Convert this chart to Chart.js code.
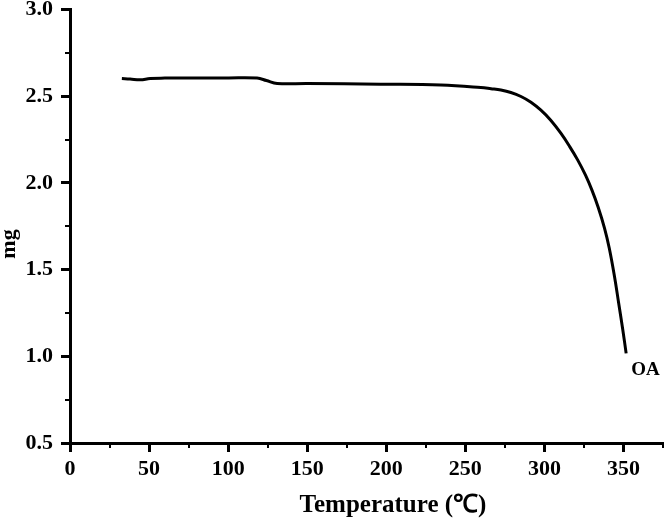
<!DOCTYPE html>
<html>
<head>
<meta charset="utf-8">
<script src="https://cdn.jsdelivr.net/npm/chart.js@4.4.1/dist/chart.umd.min.js"></script>
<style>
  html, body { margin: 0; padding: 0; background: #fff; }
  #wrap { width: 666px; height: 523px; }
</style>
</head>
<body>
<div id="wrap"><canvas id="tga-chart"></canvas></div>
<script>
// TGA curve
const temperature = [32.8, 38, 44.4, 50.7, 60, 82.4, 100, 118.3, 124.2, 131, 150, 196.5, 234.5, 259.8,
  266.2, 272.5, 278.8, 285.2, 291.5, 297.8, 304, 310.5, 316, 321.1, 326, 330, 334, 338, 341, 344.3, 347, 349.5, 351.7];
const mass = [2.603, 2.600, 2.595, 2.603, 2.605, 2.606, 2.606, 2.605, 2.591, 2.574, 2.574, 2.570, 2.565, 2.551,
  2.544, 2.536, 2.522, 2.499, 2.466, 2.420, 2.362, 2.286, 2.210, 2.132, 2.045, 1.960, 1.860, 1.740, 1.625, 1.462, 1.305, 1.158, 1.017];
const seriesLabel = 'OA';
const xTitle = 'Temperature (℃)';
const yTitle = 'mg';

const xMajorTicks = [0, 50, 100, 150, 200, 250, 300, 350];
const xMinorTicks = [25, 75, 125, 175, 225, 275, 325, 375];
const yMajorTicks = [0.5, 1.0, 1.5, 2.0, 2.5, 3.0];
const yMinorTicks = [0.75, 1.25, 1.75, 2.25, 2.75];

const SERIF = '"Liberation Serif", "Times New Roman", serif';

// Minor ticks, axis names and the curve label
const extrasPlugin = {
  id: 'extras',
  afterDraw(chart) {
    const { ctx, chartArea, scales } = chart;
    ctx.save();
    ctx.strokeStyle = '#000';
    ctx.lineWidth = 2;
    xMinorTicks.forEach(v => {
      const px = Math.round(scales.x.getPixelForValue(v));
      ctx.beginPath();
      ctx.moveTo(px, chartArea.bottom);
      ctx.lineTo(px, chartArea.bottom + 5);
      ctx.stroke();
    });
    yMinorTicks.forEach(v => {
      const py = Math.round(scales.y.getPixelForValue(v));
      ctx.beginPath();
      ctx.moveTo(chartArea.left, py);
      ctx.lineTo(chartArea.left - 5, py);
      ctx.stroke();
    });

    ctx.fillStyle = '#000';
    ctx.textAlign = 'center';
    ctx.textBaseline = 'middle';

    // x axis name (sits right of centre in the reference)
    ctx.font = 'bold 25px ' + SERIF;
    ctx.fillText(xTitle, 393, 506);

    // y axis name
    ctx.font = 'bold 22px ' + SERIF;
    ctx.translate(9, 244);
    ctx.rotate(-Math.PI / 2);
    ctx.fillText(yTitle, 0, 0);
    ctx.restore();

    // label at the end of the curve
    const meta = chart.getDatasetMeta(0);
    const last = meta.data[meta.data.length - 1];
    ctx.save();
    ctx.fillStyle = '#000';
    ctx.font = 'bold 19px ' + SERIF;
    ctx.textAlign = 'left';
    ctx.textBaseline = 'middle';
    ctx.fillText(seriesLabel, last.x + 5, last.y + 17);
    ctx.restore();
  }
};

new Chart(document.getElementById('tga-chart'), {
  type: 'scatter',
  data: {
    datasets: [{
      label: seriesLabel,
      data: temperature.map((t, i) => ({ x: t, y: mass[i] })),
      showLine: true,
      borderColor: '#000',
      borderWidth: 3,
      pointRadius: 0,
      tension: 0.4
    }]
  },
  options: {
    responsive: true,
    maintainAspectRatio: false,
    animation: false,
    layout: { padding: { top: 0, right: 3, left: 0, bottom: 0 } },
    plugins: { legend: { display: false }, tooltip: { enabled: false } },
    scales: {
      x: {
        type: 'linear',
        min: 0,
        max: 375,
        afterFit: scale => { scale.height = 80; },
        afterBuildTicks: scale => { scale.ticks = xMajorTicks.map(v => ({ value: v })); },
        border: { display: true, color: '#000', width: 3 },
        grid: { drawOnChartArea: false, drawTicks: true, tickLength: 9, tickColor: '#000', tickWidth: 3 },
        ticks: {
          color: '#000',
          font: { family: SERIF, size: 22, weight: 'bold' },
          padding: 4,
          maxRotation: 0,
          autoSkip: false
        }
      },
      y: {
        type: 'linear',
        min: 0.5,
        max: 3.0,
        afterFit: scale => { scale.width = 70; },
        afterBuildTicks: scale => { scale.ticks = yMajorTicks.map(v => ({ value: v })); },
        border: { display: true, color: '#000', width: 3 },
        grid: { drawOnChartArea: false, drawTicks: true, tickLength: 9, tickColor: '#000', tickWidth: 3 },
        ticks: {
          color: '#000',
          font: { family: SERIF, size: 22, weight: 'bold', lineHeight: 0.15 },
          padding: 8,
          callback: v => v.toFixed(1)
        }
      }
    }
  },
  plugins: [extrasPlugin]
});
</script>
</body>
</html>
